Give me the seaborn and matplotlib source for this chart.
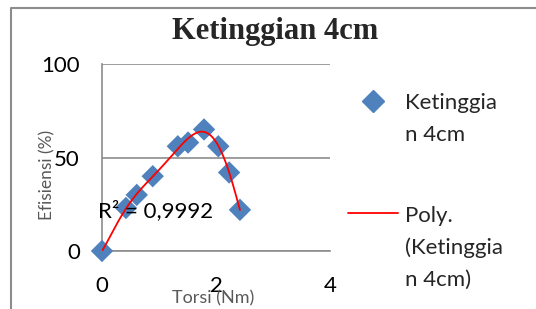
import numpy as np
import pandas as pd
import matplotlib
matplotlib.use("Agg")
import matplotlib.pyplot as plt
import seaborn as sns
from matplotlib.lines import Line2D

# Data
torsi = [0.0, 0.42, 0.61, 0.89, 1.33, 1.51, 1.79, 2.04, 2.23, 2.42]
efisiensi = [0, 23, 30, 40, 56, 58, 65, 56, 42, 22]
x_ticks = [0, 2, 4]
y_ticks = [0, 50, 100]
title = "Ketinggian 4cm"
series_label = ["Ketinggia", "n 4cm"]
trend_label = ["Poly.", "(Ketinggia", "n 4cm)"]
r2_text = "R² = 0,9992"

sns.set_style("white")
plt.rcParams["font.family"] = ["Lato", "DejaVu Sans"]

W, H = 536, 309
fig = plt.figure(figsize=(W / 100, H / 100), dpi=100)

def fx(px):
    return px / W

def fy(py):
    return 1 - py / H

# background axes in pixel coordinates for the chart border
bg = fig.add_axes([0, 0, 1, 1], zorder=-1)
bg.set_xlim(0, W)
bg.set_ylim(H, 0)
bg.axis("off")
bg.plot([11, 11, W + 5], [H + 5, 7.5, 7.5], color="#8c8c8c", linewidth=1.5, clip_on=False)

ax = fig.add_axes([fx(102), fy(251), fx(330) - fx(102), fy(64) - fy(251)])
df = pd.DataFrame({"Torsi": torsi, "Efisiensi": efisiensi})

# polynomial trendline (order 6 fit of the data)
coef = np.polyfit(df["Torsi"], df["Efisiensi"], 6)
xs = np.linspace(min(torsi), max(torsi), 200)
trend = pd.DataFrame({"x": xs, "y": np.polyval(coef, xs)})

sns.scatterplot(data=df, x="Torsi", y="Efisiensi", marker="D", s=130, color="#4F81BD",
                edgecolor="none", ax=ax, clip_on=False, zorder=3)
sns.lineplot(data=trend, x="x", y="y", color="#FF0000", linewidth=1.3, ax=ax, zorder=4)

ax.set_xlim(0, 4)
ax.set_ylim(0, 100)
ax.set_xticks(x_ticks)
ax.set_yticks(y_ticks)
ax.grid(axis="y", color="#8c8c8c", linewidth=1.2)
ax.grid(axis="x", visible=False)
for s in ["top", "right"]:
    ax.spines[s].set_visible(False)
for s in ["left", "bottom"]:
    ax.spines[s].set_color("#8c8c8c")
    ax.spines[s].set_linewidth(1.2)
ax.tick_params(axis="both", direction="out", length=8, width=1.2, color="#8c8c8c",
               labelsize=16, labelcolor="black")
ax.tick_params(axis="x", pad=10)
ax.tick_params(axis="y", pad=8)
ax.set_xlabel("")
ax.set_ylabel("")

fig.text(fx(213), fy(298), "Torsi (Nm)", ha="center", va="center", fontsize=13, color="#595959")
fig.text(fx(47), fy(175), "Efisiensi (%)", ha="center", va="center", fontsize=12.5,
         color="#595959", rotation=90, family=["Liberation Sans Narrow", "Lato", "DejaVu Sans"])
fig.text(fx(98), fy(211), r2_text, ha="left", va="center", fontsize=16, color="black")

fig.text(fx(275), fy(32), title, ha="center", va="center", fontsize=22, fontweight="bold",
         family=["Liberation Serif", "DejaVu Serif"])

# legend
fig.add_artist(Line2D([fx(373)], [fy(101)], marker="D", markersize=11, color="#4F81BD",
                      linestyle="none", transform=fig.transFigure))
for i, line in enumerate(series_label):
    fig.text(fx(405), fy(101 + 32 * i), line, ha="left", va="center_baseline", fontsize=16)
fig.add_artist(Line2D([fx(348), fx(398)], [fy(213), fy(213)], color="#FF0000", linewidth=1.3,
                      transform=fig.transFigure))
for i, line in enumerate(trend_label):
    fig.text(fx(405), fy(214 + 32 * i), line, ha="left", va="center_baseline", fontsize=16)

fig.savefig("out.png", dpi=100)
